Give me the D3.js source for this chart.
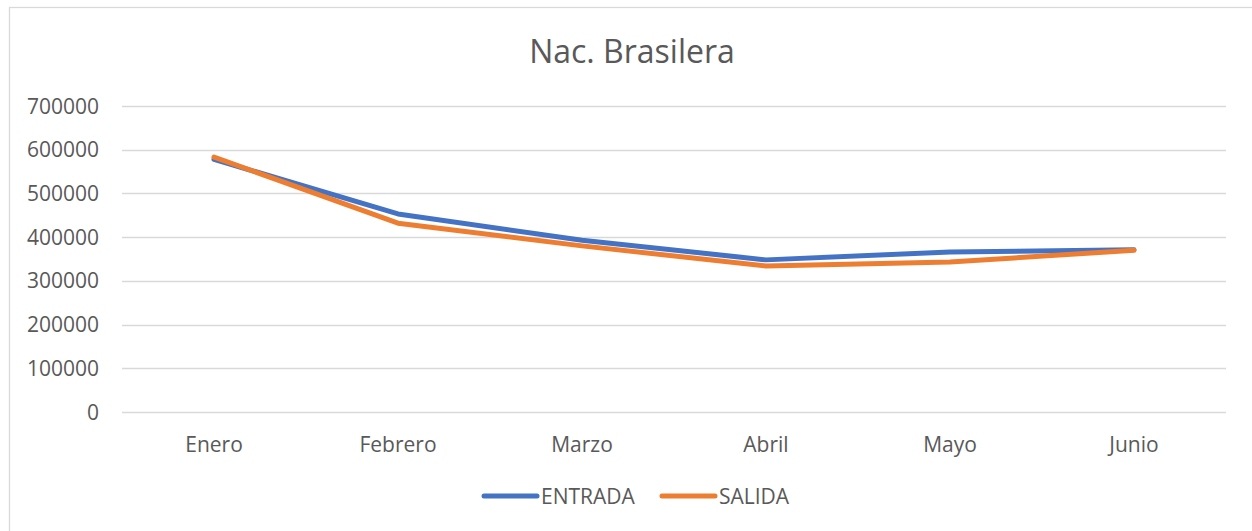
<!DOCTYPE html>
<html>
<head>
<meta charset="utf-8">
<script src="https://cdn.jsdelivr.net/npm/d3@7"></script>
<style>
  body { margin: 0; background: #fff; }
  text { font-family: "Open Sans", sans-serif; fill: #595959; }
</style>
</head>
<body>
<svg id="chart" width="1252" height="531"></svg>
<script>
const months = ['Enero', 'Febrero', 'Marzo', 'Abril', 'Mayo', 'Junio'];
const entrada = [578000, 453000, 393000, 348000, 366000, 371000];
const salida = [583000, 432000, 380000, 334000, 343000, 370000];
const yTicks = [0, 100000, 200000, 300000, 400000, 500000, 600000, 700000];

const series = [
  { name: 'ENTRADA', values: entrada, color: '#4472C4' },
  { name: 'SALIDA', values: salida, color: '#ED7D31' }
];

const svg = d3.select('#chart');

svg.append('rect')
  .attr('x', 9.5).attr('y', 7.5)
  .attr('width', 1260).attr('height', 540)
  .attr('fill', '#fff')
  .attr('stroke', '#d9d9d9')
  .attr('stroke-width', 1.3);

const x = d3.scaleBand().domain(months).range([122, 1226]);
const y = d3.scaleLinear().domain([0, 700000]).range([412, 106]);

// gridlines
svg.append('g')
  .selectAll('line')
  .data(yTicks)
  .enter()
  .append('line')
  .attr('x1', 122).attr('x2', 1226)
  .attr('y1', d => Math.round(y(d)) + 0.5)
  .attr('y2', d => Math.round(y(d)) + 0.5)
  .attr('stroke', '#d9d9d9')
  .attr('stroke-width', 1.3);

// y tick labels
svg.append('g')
  .selectAll('text')
  .data(yTicks)
  .enter()
  .append('text')
  .attr('x', 99)
  .attr('y', d => y(d) + 7.5)
  .attr('text-anchor', 'end')
  .style('font-size', '21px')
  .text(d => d);

// x labels
svg.append('g')
  .selectAll('text')
  .data(months)
  .enter()
  .append('text')
  .attr('x', d => x(d) + x.bandwidth() / 2)
  .attr('y', 452)
  .attr('text-anchor', 'middle')
  .style('font-size', '21px')
  .text(d => d);

const line = d3.line()
  .x((d, i) => x(months[i]) + x.bandwidth() / 2)
  .y(d => y(d));

svg.append('g')
  .selectAll('path')
  .data(series)
  .enter()
  .append('path')
  .attr('d', d => line(d.values))
  .attr('fill', 'none')
  .attr('stroke', d => d.color)
  .attr('stroke-width', 5)
  .attr('stroke-linecap', 'round')
  .attr('stroke-linejoin', 'round');

// title
svg.append('text')
  .attr('x', 632)
  .attr('y', 63)
  .attr('text-anchor', 'middle')
  .style('font-size', '32px')
  .text('Nac. Brasilera');

// legend
const legend = svg.append('g')
  .selectAll('g')
  .data(series)
  .enter()
  .append('g')
  .attr('transform', (d, i) => `translate(${484 + i * 178},496)`);

legend.append('line')
  .attr('x1', 0).attr('x2', 53)
  .attr('y1', 0).attr('y2', 0)
  .attr('stroke', d => d.color)
  .attr('stroke-width', 5)
  .attr('stroke-linecap', 'round');

legend.append('text')
  .attr('x', 57)
  .attr('y', 7.5)
  .style('font-size', '21px')
  .text(d => d.name);
</script>
</body>
</html>
